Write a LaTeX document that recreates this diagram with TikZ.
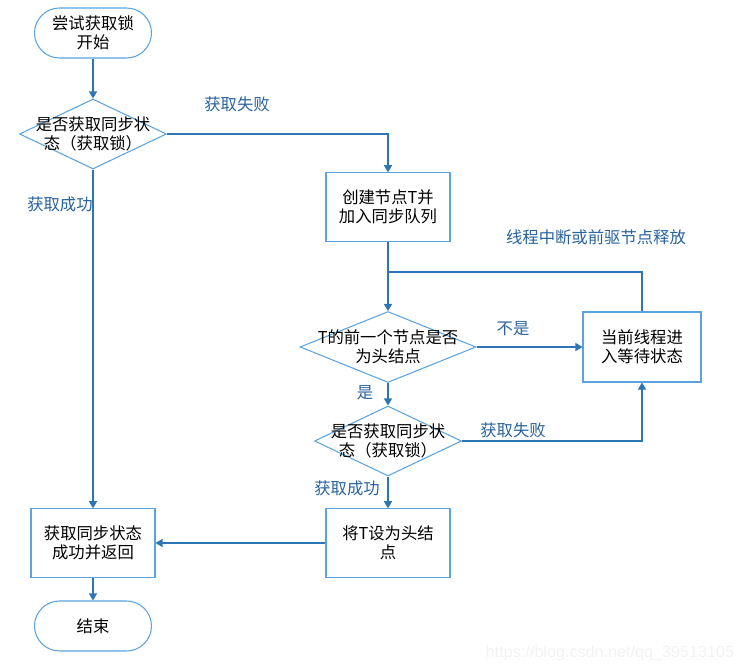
\documentclass[tikz,border=0pt]{standalone}
\usepackage{fontspec}
\setmainfont{Noto Sans CJK SC}
\newfontfamily\markfont{Liberation Sans}
\usepackage{xcolor}
\usepackage{tikz}
\usetikzlibrary{shapes,arrows.meta,positioning,calc}
\definecolor{nodeblue}{RGB}{91,163,222}
\definecolor{lineblue}{RGB}{46,117,182}
\definecolor{textblue}{RGB}{40,98,156}

\begin{document}
\begin{tikzpicture}[x=0.02cm, y=-0.02cm,
  font=\fontsize{9.3}{10.8}\selectfont,
  term/.style={draw=nodeblue, line width=0.6pt, rounded corners=0.5cm, minimum width=2.34cm, minimum height=1cm, align=center, inner sep=0pt},
  proc/.style={draw=nodeblue, line width=0.6pt, minimum width=2.48cm, minimum height=1.37cm, align=center, inner sep=0pt},
  decision/.style={draw=nodeblue, line width=0.6pt, diamond, inner sep=0pt, minimum width=2.94cm, minimum height=1.4cm},
  flow/.style={draw=lineblue, line width=0.7pt, -{Triangle[length=4pt,width=4.6pt]}},
  link/.style={draw=lineblue, line width=0.7pt},
  tag/.style={text=textblue, inner sep=0pt}]
\useasboundingbox (0,0) rectangle (741,671);

% left column
\node[term] (start) at (93,33) {尝试获取锁\\开始};
\node[decision, label={[align=center]center:是否获取同步状\\态（获取锁）}] (lock1) at (93,134) {};
\node[proc] (done) at (93,543) {获取同步状态\\成功并返回};
\node[term] (finish) at (93,626) {结束};

% right column
\node[proc] (create) at (388,207) {创建节点T并\\加入同步队列};
\coordinate (join) at (388,272);
\node[decision, minimum width=3.52cm, minimum height=1.42cm, label={[align=center]center:T的前一个节点是否\\为头结点}] (ishead) at (388,347) {};
\node[proc, minimum width=2.36cm, minimum height=1.4cm] (wait) at (642,347) {当前线程进\\入等待状态};
\node[decision, label={[align=center]center:是否获取同步状\\态（获取锁）}] (lock2) at (388,441) {};
\node[proc] (sethead) at (388,543) {将T设为头结\\点};

% connectors
\draw[flow] (start) -- (lock1);
\draw[flow] (lock1.east) -| (create.north);
\draw[flow] (lock1.south) -- (done.north);
\draw[flow] (create.south) -- (ishead.north);
\draw[link] (wait.north) |- (join);
\draw[flow] (ishead.east) -- (wait.west);
\draw[flow] (ishead.south) -- (lock2.north);
\draw[flow] (lock2.east) -| (wait.south);
\draw[flow] (lock2.south) -- (sethead.north);
\draw[flow] (sethead.west) -- (done.east);
\draw[flow] (done.south) -- (finish.north);

% labels
\node[tag] (fail1) at (237,104) {获取失败};
\node[tag] (ok1) at (60,204) {获取成功};
\node[tag] (wake) at (596,237) {线程中断或前驱节点释放};
\node[tag] (no) at (513,329) {不是};
\node[tag] (yes) at (365,393) {是};
\node[tag] (fail2) at (513,430) {获取失败};
\node[tag] (ok2) at (347,488) {获取成功};
\node[text=gray!10, font=\markfont\fontsize{9.2}{11}\selectfont, inner sep=0pt] (mark) at (610,653) {https://blog.csdn.net/qq\_39513105};
\end{tikzpicture}
\end{document}
